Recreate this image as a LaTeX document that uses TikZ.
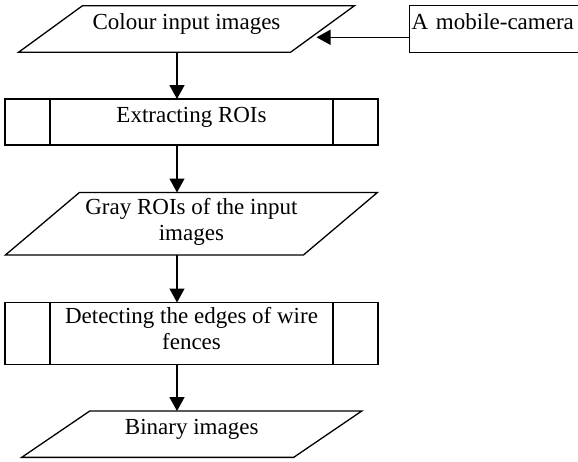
\documentclass[tikz,border=0pt]{standalone}
\usepackage{fontspec}
\setmainfont{Liberation Serif}
\usepackage{tikz}
\usetikzlibrary{arrows.meta}
\newcommand{\flowtext}{\fontsize{23}{26}\selectfont}
% slanted outline round an input/output node
\newcommand{\ioedge}[2]{\draw ([xshift=#2]#1.north west) -- ([xshift=#2]#1.north east) -- ([xshift=-#2]#1.south east) -- ([xshift=-#2]#1.south west) -- cycle;}
% the two inner bars of a process box
\newcommand{\procbars}[1]{\draw ([xshift=45pt]#1.north west) -- ([xshift=45pt]#1.south west); \draw ([xshift=-45pt]#1.north east) -- ([xshift=-45pt]#1.south east);}

\begin{document}
\begin{tikzpicture}[x=1pt,y=-1pt,font=\flowtext,line width=1.3pt,
  io/.style={inner sep=0pt,outer sep=0pt,align=center},
  proc/.style={draw,minimum width=373pt,inner sep=0pt,outer sep=0pt,align=center},
  oneline/.style={text height=16pt,text depth=16pt},
  twoline/.style={text height=40pt,text depth=7pt},
  arr/.style={-{Triangle[length=14pt,width=15pt]}}]
\useasboundingbox (0,0) rectangle (578,461);

\node[io,oneline,minimum width=272pt,minimum height=46.6pt] (in1) at (186.5,29) {Colour input images};
\node[draw,oneline,inner xsep=2.4pt,inner ysep=0pt,outer sep=0pt,text width=175pt,align=left,minimum height=46.6pt,anchor=north west] (cam) at (409.3,5.7) {A mobile-camera};
\node[proc,oneline,minimum height=46pt] (roi) at (191.5,122) {Extracting ROIs};
\node[io,twoline,minimum width=298pt,minimum height=62.5pt] (gray) at (191.4,223.75) {Gray ROIs of the input\\images};
\node[proc,twoline,minimum height=61.8pt] (edge) at (191.5,333.4) {Detecting the edges of wire\\fences};
\node[io,oneline,minimum width=272pt,minimum height=46.3pt] (bin) at (191.7,434.2) {Binary images};

\ioedge{in1}{32pt}
\ioedge{gray}{37pt}
\ioedge{bin}{34pt}
\procbars{roi}
\procbars{edge}

\coordinate (spine) at (177,0);
\draw[arr] ([yshift=-8.3pt]cam.west) -- ([xshift=-6pt,yshift=-8.3pt]in1.east);
\draw[arr] (in1.south -| spine) -- (roi.north -| spine);
\draw[arr] (roi.south -| spine) -- (gray.north -| spine);
\draw[arr] (gray.south -| spine) -- (edge.north -| spine);
\draw[arr] (edge.south -| spine) -- (bin.north -| spine);
\end{tikzpicture}
\end{document}
